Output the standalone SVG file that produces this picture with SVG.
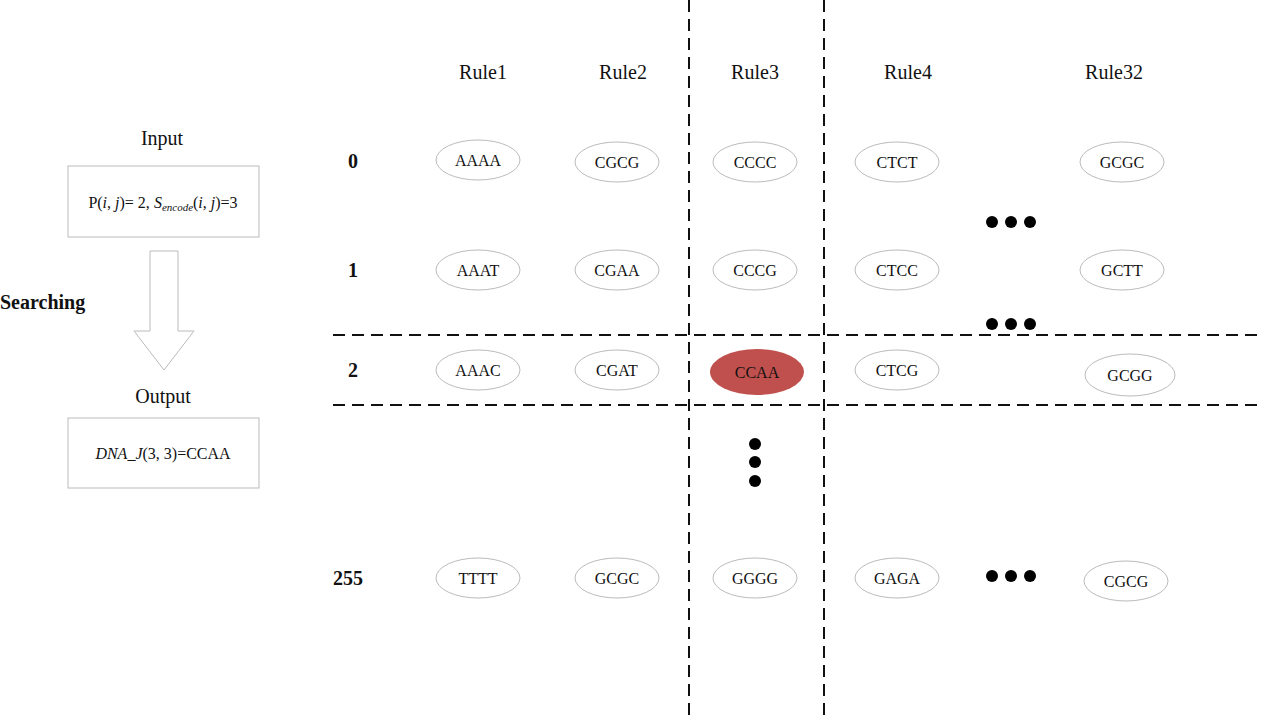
<svg xmlns="http://www.w3.org/2000/svg" width="1263" height="718" viewBox="0 0 1263 718">
<style>
text{font-family:"Liberation Serif",serif;fill:#111}
.h{font-size:20px;text-anchor:middle}
.n{font-size:16px;text-anchor:middle}
.r{font-size:20px;font-weight:bold}
.e{fill:#fff;stroke:#bbb;stroke-width:1}
.d{stroke:#111;stroke-width:2;stroke-dasharray:12,7;fill:none}
.b{fill:#fff;stroke:#bbb;stroke-width:1}
</style>
<rect width="1263" height="718" fill="#fff"/>
<g id="connectors">
<line class="d" x1="689" y1="0" x2="689" y2="718"/>
<line class="d" x1="824" y1="0" x2="824" y2="718"/>
<line class="d" x1="333" y1="335" x2="1263" y2="335"/>
<line class="d" x1="333" y1="405" x2="1263" y2="405"/>
<polygon id="arrow" points="150,251 178,251 178,331 194,331 164,370 134,331 150,331" fill="#fff" stroke="#bbb"/>
</g>
<g id="left">
<text class="h" x="162" y="145">Input</text>
<g id="input"><rect class="b" x="68" y="166" width="191" height="71"/>
<text x="163" y="208" font-size="16" text-anchor="middle">P(<tspan font-style="italic">i</tspan>, <tspan font-style="italic">j</tspan>)= 2, <tspan font-style="italic">S</tspan><tspan font-style="italic" font-size="11" dy="3">encode</tspan><tspan dy="-3">(</tspan><tspan font-style="italic">i</tspan>, <tspan font-style="italic">j</tspan>)=3</text></g>
<text x="0" y="309" font-size="20" font-weight="bold">Searching</text>
<text class="h" x="163" y="403">Output</text>
<g id="output"><rect class="b" x="68" y="418" width="191" height="70"/>
<text x="163" y="459" font-size="16" text-anchor="middle"><tspan font-style="italic">DNA_J</tspan>(3, 3)=CCAA</text></g>
</g>
<g id="headers">
<text class="h" x="483" y="79">Rule1</text>
<text class="h" x="623" y="79">Rule2</text>
<text class="h" x="755" y="79">Rule3</text>
<text class="h" x="908" y="79">Rule4</text>
<text class="h" x="1114" y="79">Rule32</text>
<text class="r" x="348" y="168">0</text>
<text class="r" x="348" y="277">1</text>
<text class="r" x="348" y="377">2</text>
<text class="r" x="333" y="585">255</text>
</g>
<g id="r0">
<ellipse class="e" cx="478" cy="160" rx="42" ry="20"/><text class="n" x="478" y="166">AAAA</text>
<ellipse class="e" cx="617" cy="162" rx="42" ry="20"/><text class="n" x="617" y="168">CGCG</text>
<ellipse class="e" cx="755" cy="162" rx="42" ry="20"/><text class="n" x="755" y="168">CCCC</text>
<ellipse class="e" cx="897" cy="162" rx="42" ry="20"/><text class="n" x="897" y="168">CTCT</text>
<ellipse class="e" cx="1122" cy="162" rx="42" ry="20"/><text class="n" x="1122" y="168">GCGC</text>
</g>
<g id="r1">
<ellipse class="e" cx="478" cy="270" rx="42" ry="20"/><text class="n" x="478" y="276">AAAT</text>
<ellipse class="e" cx="617" cy="270" rx="42" ry="20"/><text class="n" x="617" y="276">CGAA</text>
<ellipse class="e" cx="755" cy="270" rx="42" ry="20"/><text class="n" x="755" y="276">CCCG</text>
<ellipse class="e" cx="897" cy="270" rx="42" ry="20"/><text class="n" x="897" y="276">CTCC</text>
<ellipse class="e" cx="1122" cy="270" rx="42" ry="20"/><text class="n" x="1122" y="276">GCTT</text>
</g>
<g id="r2">
<ellipse class="e" cx="478" cy="370" rx="42" ry="20"/><text class="n" x="478" y="376">AAAC</text>
<ellipse class="e" cx="617" cy="370" rx="42" ry="20"/><text class="n" x="617" y="376">CGAT</text>
<ellipse cx="757" cy="372" rx="47" ry="23" fill="#c0504d"/><text class="n" x="757" y="378">CCAA</text>
<ellipse class="e" cx="897" cy="370" rx="42" ry="20"/><text class="n" x="897" y="376">CTCG</text>
<ellipse class="e" cx="1130" cy="375" rx="45" ry="21"/><text class="n" x="1130" y="381">GCGG</text>
</g>
<g id="r255">
<ellipse class="e" cx="478" cy="578" rx="42" ry="20"/><text class="n" x="478" y="584">TTTT</text>
<ellipse class="e" cx="617" cy="578" rx="42" ry="20"/><text class="n" x="617" y="584">GCGC</text>
<ellipse class="e" cx="755" cy="578" rx="42" ry="20"/><text class="n" x="755" y="584">GGGG</text>
<ellipse class="e" cx="897" cy="578" rx="42" ry="20"/><text class="n" x="897" y="584">GAGA</text>
<ellipse class="e" cx="1126" cy="581" rx="42" ry="20"/><text class="n" x="1126" y="587">CGCG</text>
</g>
<g id="dots" fill="#000">
<circle cx="992" cy="222" r="6"/><circle cx="1011" cy="222" r="6"/><circle cx="1030" cy="222" r="6"/>
<circle cx="992" cy="324" r="6"/><circle cx="1011" cy="324" r="6"/><circle cx="1030" cy="324" r="6"/>
<circle cx="992" cy="576" r="6"/><circle cx="1011" cy="576" r="6"/><circle cx="1030" cy="576" r="6"/>
<circle cx="755" cy="444" r="6"/><circle cx="755" cy="462" r="6"/><circle cx="755" cy="481" r="6"/>
</g>
</svg>
